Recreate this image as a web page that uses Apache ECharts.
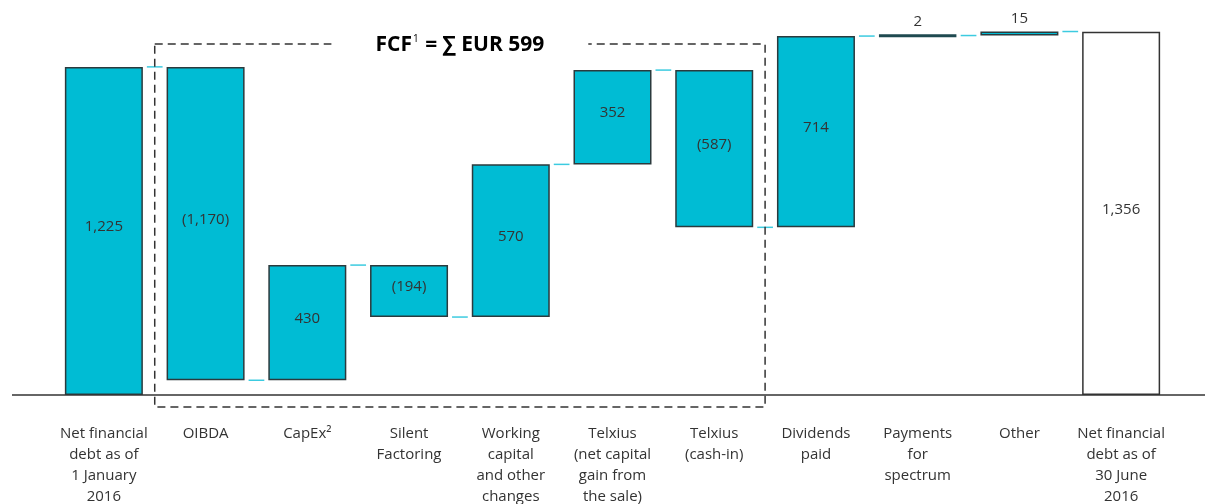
<!DOCTYPE html>
<html>
<head>
<meta charset="utf-8">
<script src="https://cdn.jsdelivr.net/npm/echarts@6/dist/echarts.min.js"></script>
<style>
  html, body { margin: 0; padding: 0; background: #fff; }
  #chart { width: 1205px; height: 504px; }
</style>
</head>
<body>
<div id="chart"></div>
<script>
  // waterfall data
  const categories = [
    'Net financial\ndebt as of\n1 January\n2016', 'OIBDA', 'CapEx²', 'Silent\nFactoring',
    'Working\ncapital\nand other\nchanges', 'Telxius\n(net capital\ngain from\nthe sale)',
    'Telxius\n(cash-in)', 'Dividends\npaid', 'Payments\nfor\nspectrum', 'Other',
    'Net financial\ndebt as of\n30 June\n2016'
  ];
  const baseValues = [0, 55, 55, 291, 291, 861, 626, 626, 1340, 1342, 0];
  const barValues = [1225, 1170, 430, 194, 570, 352, 587, 714, 2, 15, 1356];
  const barLabels = ['1,225', '(1,170)', '430', '(194)', '570', '352', '(587)', '714', '2', '15', '1,356'];
  const connectorLevels = [1225, 55, 485, 291, 861, 1213, 626, 1340, 1342, 1357];
  const fcfFirst = 1, fcfLast = 6;
  const fcfTop = 1310, fcfBottom = -45;

  const TEAL = '#00bcd4';
  const EDGE = '#2b3a3d';
  const FONT = '"Open Sans", "DejaVu Sans", sans-serif';

  const chart = echarts.init(document.getElementById('chart'));

  const visible = barValues.map(function (v, i) {
    const item = { value: v, label: { formatter: barLabels[i] } };
    if (i === 8) {
      item.itemStyle = { color: '#1f4a50', borderColor: '#1f4a50', borderWidth: 3 };
      item.label.position = 'top';
      item.label.distance = 1;
    } else if (i === 9) {
      item.label.position = 'top';
      item.label.distance = 1;
    } else if (i === categories.length - 1) {
      item.itemStyle = { color: '#fff', borderColor: '#333' };
    }
    return item;
  });

  chart.setOption({
    animation: false,
    grid: { left: 53, right: 33, top: 20, bottom: 109, containLabel: false, outerBoundsMode: 'none' },
    xAxis: {
      type: 'category',
      data: categories,
      axisLine: { show: false },
      axisTick: { show: false },
      axisLabel: {
        interval: 0, margin: 28, fontSize: 15, lineHeight: 21,
        color: '#333', fontFamily: FONT, verticalAlign: 'top'
      }
    },
    yAxis: { type: 'value', min: 0, max: 1400, show: false, splitLine: { show: false } },
    series: [
      {
        type: 'bar', stack: 'w', barWidth: 78, silent: true,
        itemStyle: { color: 'transparent' },
        data: baseValues
      },
      {
        type: 'bar', stack: 'w', barWidth: 78,
        itemStyle: { color: TEAL, borderColor: EDGE, borderWidth: 1.5 },
        label: {
          show: true, position: 'inside', offset: [0, -4],
          fontSize: 15, color: '#333', fontFamily: FONT
        },
        data: visible
      },
      {
        type: 'custom',
        data: connectorLevels.map(function (v, i) { return [i + 0.5, v]; }),
        renderItem: function (params, api) {
          const p = api.coord([Math.floor(api.value(0)), api.value(1)]);
          const slot = api.size([1, 0])[0];
          const x1 = p[0] + 39 + 4;
          const x2 = p[0] + slot - 39 - 4;
          return {
            type: 'line',
            shape: { x1: x1, y1: p[1], x2: x2, y2: p[1] },
            style: { stroke: '#3ccbe0', lineWidth: 1.5 }
          };
        },
        z: 3
      }
    ]
  });

  // baseline, FCF box and title, placed from the axes
  const slot = chart.convertToPixel({ xAxisIndex: 0 }, 1) - chart.convertToPixel({ xAxisIndex: 0 }, 0);
  const boxL = chart.convertToPixel({ xAxisIndex: 0 }, fcfFirst) - slot / 2;
  const boxR = chart.convertToPixel({ xAxisIndex: 0 }, fcfLast) + slot / 2;
  const boxT = chart.convertToPixel({ yAxisIndex: 0 }, fcfTop);
  const boxB = chart.convertToPixel({ yAxisIndex: 0 }, fcfBottom);
  const zeroY = chart.convertToPixel({ yAxisIndex: 0 }, 0);

  chart.setOption({
    graphic: [
      {
        type: 'line', z: 10,
        shape: { x1: 12, y1: zeroY, x2: 1205, y2: zeroY },
        style: { stroke: '#333', lineWidth: 1.5 }
      },
      {
        type: 'rect', z: 10,
        shape: { x: boxL, y: boxT, width: boxR - boxL, height: boxB - boxT },
        style: { fill: 'none', stroke: '#333', lineWidth: 1.5, lineDash: [8, 5] }
      },
      {
        type: 'text', z: 11,
        x: (boxL + boxR) / 2, y: boxT + 1,
        style: {
          text: '{b|FCF}{s|1}{b| = ∑ EUR 599}',
          align: 'center', verticalAlign: 'middle',
          backgroundColor: '#fff', padding: [4, 44],
          rich: {
            b: { fontSize: 21, fontWeight: 'bold', color: '#222', fontFamily: FONT },
            s: { fontSize: 10, color: '#222', fontFamily: FONT, verticalAlign: 'top', padding: [0, 1, 8, 1] }
          }
        }
      }
    ]
  });
</script>
</body>
</html>
